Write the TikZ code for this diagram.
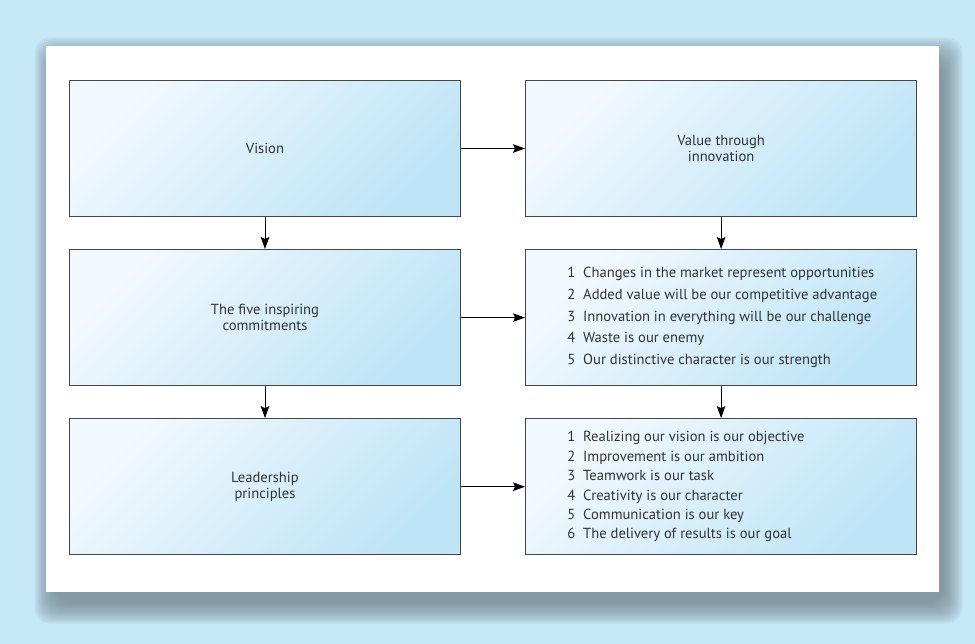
\documentclass[tikz,border=0pt]{standalone}
\usepackage{fontspec}
\setmainfont{PT Sans}
\usetikzlibrary{positioning,arrows.meta}

\definecolor{skyback}{RGB}{198,232,247}
\definecolor{pageshadow}{RGB}{114,132,141}
\definecolor{boxlight}{RGB}{242,249,254}
\definecolor{boxdark}{RGB}{190,228,247}
\definecolor{boxline}{RGB}{70,70,70}
\definecolor{inktext}{RGB}{50,50,50}

\newcommand{\numrow}[2]{\makebox[16pt][l]{#1}#2}

\tikzset{
  stage/.style={draw=boxline, line width=1.1pt, minimum width=391pt, minimum height=136pt,
    inner sep=0pt, top color=boxlight, bottom color=boxdark, shading angle=45,
    text=inktext, align=center, font=\fontsize{14.6}{16}\selectfont},
  pointlist/.style={inner sep=0pt, align=left, text=inktext, font=\fontsize{14.6}{21.7}\selectfont},
  flow/.style={-{Stealth[length=12pt,width=8.5pt,inset=2pt]}, line width=1pt, black},
}

\begin{document}
\begin{tikzpicture}[x=1pt,y=-1pt]
	% backdrop and page
	\fill [skyback] (0,0) rectangle (975,644);
	\foreach \k in {0,...,13}
		\fill [pageshadow, opacity=0.09, rounded corners=16pt] ({54-1.5*\k},{62-1.9*\k}) rectangle ({943+1.5*\k},{603+1.6*\k});
	\fill [white] (46,46) rectangle (939,592);

	% left column
	\node [stage] (vision) at (265,148.5) {Vision};
	\node [stage, below=32pt of vision] (commit) {The five inspiring\\commitments};
	\node [stage, below=32pt of commit] (leader) {Leadership\\principles};

	% right column
	\node [stage, right=64pt of vision] (value) {Value through\\innovation};
	\node [stage, right=64pt of commit] (commitbox) {};
	\node [stage, right=64pt of leader] (principbox) {};

	\node [pointlist, right=42pt of commitbox.west] (commitlist) {%
		\numrow{1}{Changes in the market represent opportunities}\\
		\numrow{2}{Added value will be our competitive advantage}\\
		\numrow{3}{Innovation in everything will be our challenge}\\
		\numrow{4}{Waste is our enemy}\\
		\numrow{5}{Our distinctive character is our strength}};
	\node [pointlist, font=\fontsize{14.6}{19.4}\selectfont, right=42pt of principbox.west] (principlist) {%
		\numrow{1}{Realizing our vision is our objective}\\
		\numrow{2}{Improvement is our ambition}\\
		\numrow{3}{Teamwork is our task}\\
		\numrow{4}{Creativity is our character}\\
		\numrow{5}{Communication is our key}\\
		\numrow{6}{The delivery of results is our goal}};

	% connectors
	\draw [flow] (vision) -- (value);
	\draw [flow] (commit) -- (commitbox);
	\draw [flow] (leader) -- (principbox);
	\draw [flow] (vision) -- (commit);
	\draw [flow] (commit) -- (leader);
	\draw [flow] (value) -- (commitbox);
	\draw [flow] (commitbox) -- (principbox);
\end{tikzpicture}
\end{document}
